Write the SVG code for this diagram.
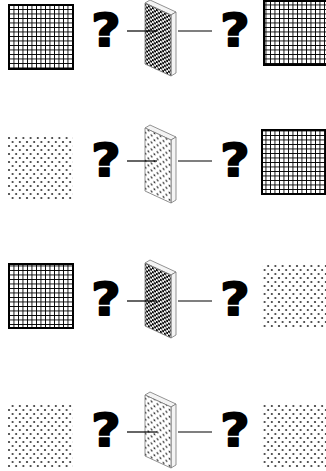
<svg xmlns="http://www.w3.org/2000/svg" width="326" height="471" viewBox="0 0 326 471">
<style>
.q{font-family:"DejaVu Sans",sans-serif;font-weight:bold;font-size:44px;fill:#000;stroke:#000;stroke-width:1.8;stroke-linejoin:round;text-anchor:middle}
.ln{stroke:#000;stroke-width:1.2;fill:none}
.sq{stroke:#000;stroke-width:2}
.edge{fill:#f4f4f4;stroke:#777;stroke-width:0.8}
</style>
<defs>
<pattern id="grid" width="4.5" height="4.5" patternUnits="userSpaceOnUse">
<rect width="4.5" height="4.5" fill="#fff"/>
<rect x="0" y="0" width="0.9" height="4.5" fill="#000"/>
<rect x="0" y="0" width="4.5" height="0.9" fill="#000"/>
</pattern>
<pattern id="dots" width="7.2" height="8" patternUnits="userSpaceOnUse">
<rect width="7.2" height="8" fill="#fff"/>
<circle cx="1.8" cy="2" r="1.05" fill="#333"/>
<circle cx="5.4" cy="6" r="1.05" fill="#333"/>
</pattern>
<pattern id="check" width="4" height="4" patternUnits="userSpaceOnUse" patternTransform="skewY(25)">
<rect width="4" height="4" fill="#fff"/>
<rect width="2" height="2" fill="#000"/>
<rect x="2" y="2" width="2" height="2" fill="#000"/>
</pattern>
<pattern id="pdots" width="6" height="7" patternUnits="userSpaceOnUse" patternTransform="skewY(25)">
<rect width="6" height="7" fill="#fff"/>
<circle cx="1.5" cy="1.7" r="1" fill="#333"/>
<circle cx="4.5" cy="5.2" r="1" fill="#333"/>
</pattern>
</defs>

<g id="row1">
<g id="left1"><rect class="sq" x="9" y="5" width="64" height="64" fill="url(#grid)"/></g>
<g id="q1a"><text class="q" transform="translate(106,46) scale(1.15,1)">?</text></g>
<g id="panel1">
<polygon class="edge" points="145,3 150,0 176,12 171,15"/>
<polygon class="edge" points="171,15 176,12 176,73 171,76"/>
<polygon points="145,3 171,15 171,76 145,64" fill="url(#check)" stroke="#777" stroke-width="0.8"/>
</g>
<g id="q1b"><text class="q" transform="translate(235,46) scale(1.15,1)">?</text></g>
<g id="right1"><rect class="sq" x="264" y="1" width="64" height="64" fill="url(#grid)"/></g>
</g>

<g id="row2">
<g id="left2"><rect x="8" y="136" width="65" height="65" fill="url(#dots)"/></g>
<g id="q2a"><text class="q" transform="translate(106,176) scale(1.15,1)">?</text></g>
<g id="panel2">
<polygon class="edge" points="145,128 150,125 176,137 171,140"/>
<polygon class="edge" points="171,140 176,137 176,200 171,203"/>
<polygon points="145,128 171,140 171,203 145,191" fill="url(#pdots)" stroke="#777" stroke-width="0.8"/>
</g>
<g id="q2b"><text class="q" transform="translate(235,176) scale(1.15,1)">?</text></g>
<g id="right2"><rect class="sq" x="262" y="130" width="64" height="64" fill="url(#grid)"/></g>
</g>

<g id="row3">
<g id="left3"><rect class="sq" x="9" y="264" width="64" height="64" fill="url(#grid)"/></g>
<g id="q3a"><text class="q" transform="translate(106,315) scale(1.15,1)">?</text></g>
<g id="panel3">
<polygon class="edge" points="145,263 150,260 176,272 171,275"/>
<polygon class="edge" points="171,275 176,272 176,335 171,338"/>
<polygon points="145,263 171,275 171,338 145,326" fill="url(#check)" stroke="#777" stroke-width="0.8"/>
</g>
<g id="q3b"><text class="q" transform="translate(235,315) scale(1.15,1)">?</text></g>
<g id="right3"><rect x="262" y="264" width="64" height="64" fill="url(#dots)"/></g>
</g>

<g id="row4">
<g id="left4"><rect x="8" y="403" width="65" height="65" fill="url(#dots)"/></g>
<g id="q4a"><text class="q" transform="translate(106,446) scale(1.15,1)">?</text></g>
<g id="panel4">
<polygon class="edge" points="145,395 150,392 176,404 171,407"/>
<polygon class="edge" points="171,407 176,404 176,465 171,468"/>
<polygon points="145,395 171,407 171,468 145,456" fill="url(#pdots)" stroke="#777" stroke-width="0.8"/>
</g>
<g id="q4b"><text class="q" transform="translate(235,446) scale(1.15,1)">?</text></g>
<g id="right4"><rect x="262" y="403" width="64" height="64" fill="url(#dots)"/></g>
</g>

<g id="connectors">
<line class="ln" x1="127" y1="31" x2="157" y2="31"/>
<line class="ln" x1="178" y1="31" x2="212" y2="31"/>
<line class="ln" x1="127" y1="161" x2="157" y2="161"/>
<line class="ln" x1="178" y1="161" x2="212" y2="161"/>
<line class="ln" x1="127" y1="301" x2="157" y2="301"/>
<line class="ln" x1="178" y1="301" x2="212" y2="301"/>
<line class="ln" x1="127" y1="432" x2="157" y2="432"/>
<line class="ln" x1="178" y1="432" x2="212" y2="432"/>
</g>
</svg>
